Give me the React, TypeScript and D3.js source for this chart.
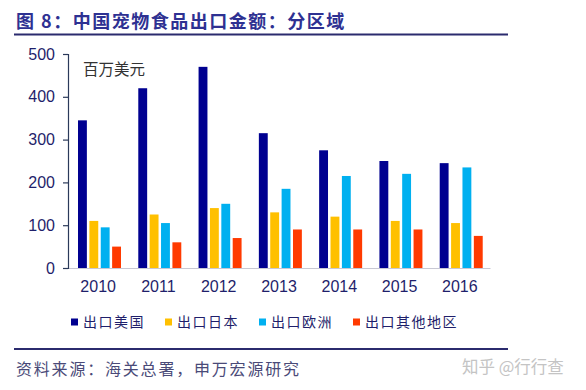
import { useEffect, useRef } from "react";
import * as d3 from "d3";

const years = ["2010", "2011", "2012", "2013", "2014", "2015", "2016"];
const usa = [345, 420, 470, 315, 275, 250, 245];
const japan = [110, 125, 140, 130, 120, 110, 105];
const europe = [95, 105, 150, 185, 215, 220, 235];
const others = [50, 60, 70, 90, 90, 90, 75];
const seriesNames = ["出口美国", "出口日本", "出口欧洲", "出口其他地区"];
const colors = ["#000090", "#FFC000", "#00B0F0", "#FF3A00"];
const yTicks = [0, 100, 200, 300, 400, 500];

export default function App() {
  const svgRef = useRef<SVGSVGElement>(null);

  useEffect(() => {
    const width = 586;
    const height = 390;
    const navy = "#1f1f6b";
    const numFont = "'Liberation Sans', Arial, sans-serif";
    const cjkFont = "'Noto Sans CJK SC', sans-serif";

    const svg = d3.select(svgRef.current)
      .attr("viewBox", [0, 0, width, height])
      .attr("width", width)
      .attr("height", height);
    svg.selectAll("*").remove();

    // title + rules
    svg.append("text")
      .attr("x", 16).attr("y", 28)
      .attr("font-family", cjkFont)
      .attr("font-weight", "bold")
      .attr("font-size", 18)
      .attr("letter-spacing", 1.5)
      .attr("fill", "#2e3192")
      .text("图 8：中国宠物食品出口金额：分区域");
    svg.append("line")
      .attr("x1", 14).attr("x2", 508).attr("y1", 34.5).attr("y2", 34.5)
      .attr("stroke", "#2b2b6e").attr("stroke-width", 2);
    svg.append("line")
      .attr("x1", 14).attr("x2", 508).attr("y1", 349).attr("y2", 349)
      .attr("stroke", "#2b2b6e").attr("stroke-width", 2);

    const x = d3.scaleBand().domain(years).range([68, 490]);
    const y = d3.scaleLinear().domain([0, 500]).range([268, 54]);
    const series = [usa, japan, europe, others];
    const inner = d3.scaleBand()
      .domain(d3.range(series.length).map(String))
      .range([10, 53])
      .paddingInner(0.22);

    // bars
    series.forEach((vals, si) => {
      svg.append("g").selectAll("rect")
        .data(vals)
        .join("rect")
        .attr("x", (_, i) => (x(years[i]) as number) + (inner(String(si)) as number))
        .attr("y", d => y(d))
        .attr("width", inner.bandwidth())
        .attr("height", d => y(0) - y(d))
        .attr("fill", colors[si]);
    });

    // x axis
    const xg = svg.append("g")
      .attr("transform", "translate(0,268)")
      .call(d3.axisBottom(x).tickSize(0).tickPadding(13));
    xg.select(".domain").attr("stroke", "#c8c8d4").attr("stroke-width", 1);
    xg.selectAll("text")
      .attr("font-family", numFont)
      .attr("font-size", 16)
      .attr("fill", navy);

    // y axis
    const yg = svg.append("g")
      .attr("transform", "translate(68,0)")
      .call(d3.axisLeft(y).tickValues(yTicks).tickSize(5).tickPadding(8));
    yg.select(".domain").attr("stroke", "#2b3a5a").attr("stroke-width", 1.2);
    yg.selectAll("line").attr("stroke", "#2b3a5a").attr("stroke-width", 1.2);
    yg.selectAll("text")
      .attr("font-family", numFont)
      .attr("font-size", 16)
      .attr("fill", navy);

    svg.append("text")
      .attr("x", 83).attr("y", 75)
      .attr("font-family", cjkFont)
      .attr("font-size", 15.5)
      .attr("fill", "#333")
      .text("百万美元");

    // legend
    const legendX = [71, 165, 259, 353];
    const lg = svg.append("g");
    seriesNames.forEach((name, i) => {
      lg.append("rect")
        .attr("x", legendX[i]).attr("y", 318.5)
        .attr("width", 7).attr("height", 7)
        .attr("fill", colors[i]);
      lg.append("text")
        .attr("x", legendX[i] + 12).attr("y", 327)
        .attr("font-family", cjkFont)
        .attr("font-size", 14)
        .attr("letter-spacing", 1.5)
        .attr("fill", navy)
        .text(name);
    });

    // source + watermark
    svg.append("text")
      .attr("x", 16).attr("y", 375)
      .attr("font-family", cjkFont)
      .attr("font-size", 16)
      .attr("letter-spacing", 1.8)
      .attr("fill", "#4a4a78")
      .text("资料来源：海关总署，申万宏源研究");
    svg.append("text")
      .attr("x", 462).attr("y", 373)
      .attr("font-family", cjkFont)
      .attr("font-size", 16.5)
      .attr("fill", "#c4c4c4")
      .text("知乎 @行行查");
  }, []);

  return (
    <svg ref={svgRef} style={{ position: "absolute", left: 0, top: 0, background: "#fff" }}></svg>
  );
}
